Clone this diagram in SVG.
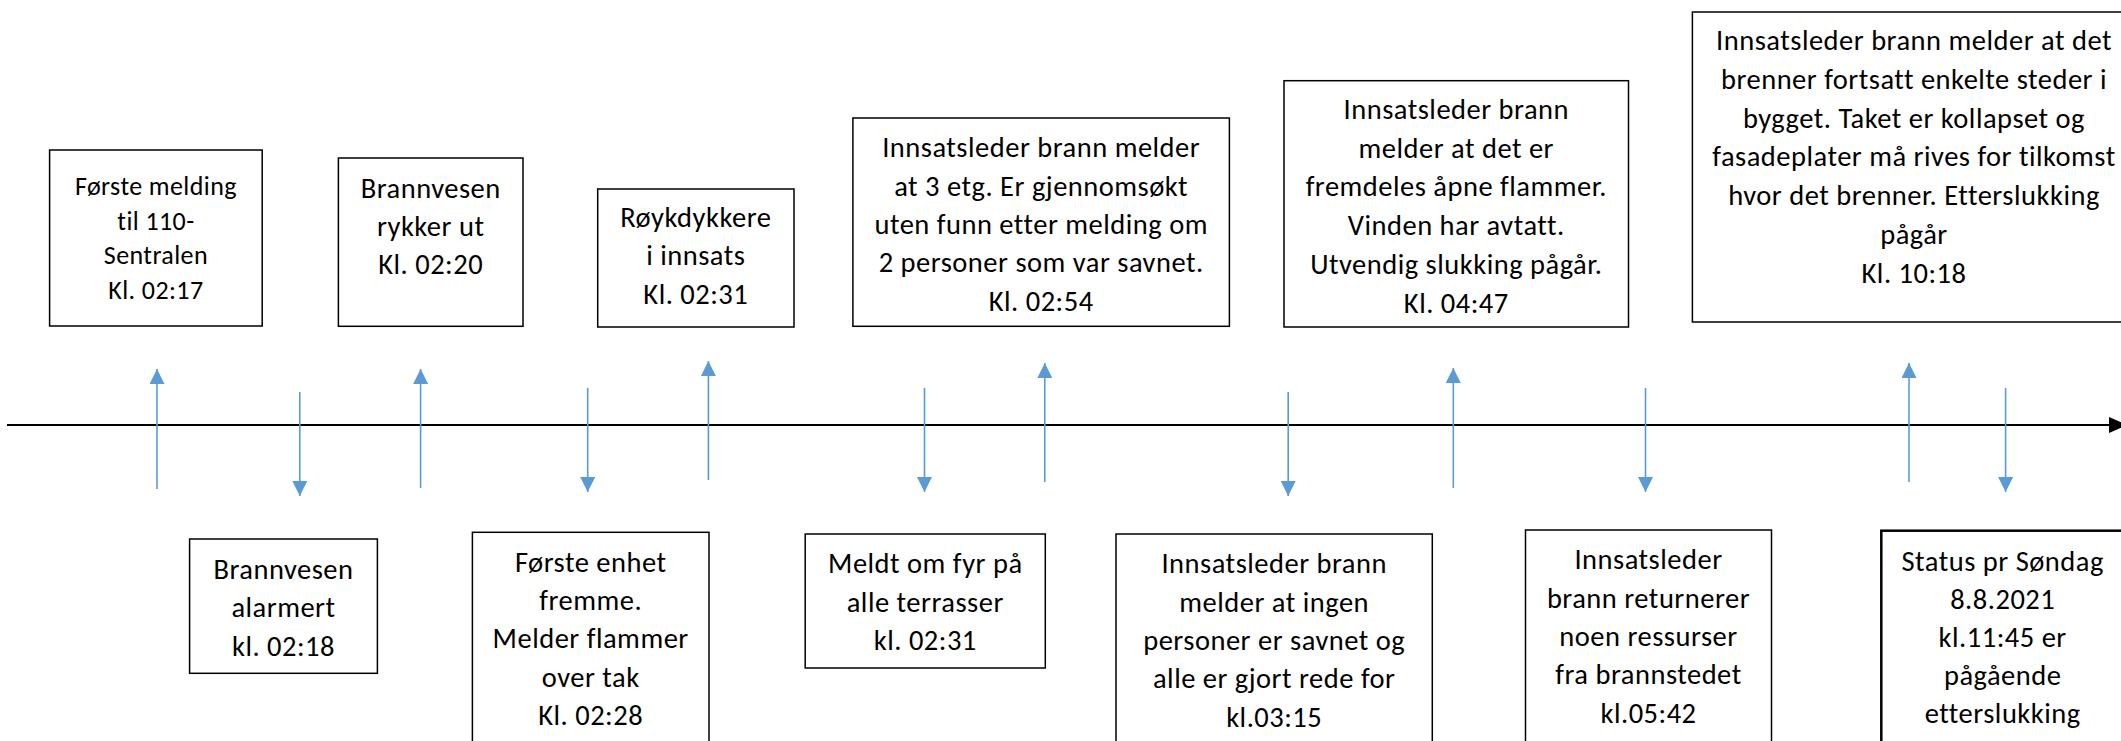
<svg xmlns="http://www.w3.org/2000/svg" width="2121" height="741" viewBox="0 0 2121 741">
<style>
.box{fill:#fff;stroke:#000;stroke-width:1.5}
.thick{stroke-width:2.5}
.t{font-family:Carlito,Lato,"Liberation Sans",sans-serif;font-size:28.5px;letter-spacing:0.5px;fill:#000;text-anchor:middle}
.s{font-size:26px;letter-spacing:0.4px}
.ev{stroke:#5B9BD5;stroke-width:1.6;fill:none}
.axis{stroke:#000;stroke-width:2;fill:none}
</style>
<defs>
<marker id="blue" viewBox="0 0 15 15" markerWidth="15" markerHeight="15" markerUnits="userSpaceOnUse" refX="15" refY="7.5" orient="auto">
<path d="M0,0 L15,7.5 L0,15 z" fill="#5B9BD5"/>
</marker>
<marker id="black" viewBox="0 0 18 16" markerWidth="18" markerHeight="16" markerUnits="userSpaceOnUse" refX="18" refY="8" orient="auto">
<path d="M0,0 L18,8 L0,16 z" fill="#000"/>
</marker>
</defs>
<rect width="2121" height="741" fill="#fff"/>
<g id="connectors">
<line class="axis" x1="7" y1="425" x2="2127" y2="425" marker-end="url(#black)"/>
<line class="ev" x1="157" y1="489" x2="157" y2="369" marker-end="url(#blue)"/>
<line class="ev" x1="420.6" y1="488" x2="420.6" y2="369" marker-end="url(#blue)"/>
<line class="ev" x1="708.4" y1="480" x2="708.4" y2="361" marker-end="url(#blue)"/>
<line class="ev" x1="1044.8" y1="482" x2="1044.8" y2="363" marker-end="url(#blue)"/>
<line class="ev" x1="1453.3" y1="488" x2="1453.3" y2="368" marker-end="url(#blue)"/>
<line class="ev" x1="1909" y1="482" x2="1909" y2="363" marker-end="url(#blue)"/>
<line class="ev" x1="299.8" y1="392" x2="299.8" y2="496" marker-end="url(#blue)"/>
<line class="ev" x1="587.7" y1="388" x2="587.7" y2="492" marker-end="url(#blue)"/>
<line class="ev" x1="924.5" y1="388" x2="924.5" y2="492" marker-end="url(#blue)"/>
<line class="ev" x1="1288.2" y1="392" x2="1288.2" y2="496" marker-end="url(#blue)"/>
<line class="ev" x1="1645.5" y1="388" x2="1645.5" y2="492" marker-end="url(#blue)"/>
<line class="ev" x1="2005.6" y1="388" x2="2005.6" y2="492" marker-end="url(#blue)"/>
</g>
<g id="n1">
<rect class="box" x="49.6" y="150" width="212.6" height="176"/>
<text class="t s"><tspan x="155.9" y="195">Første melding</tspan><tspan x="155.9" y="229.5">til 110-</tspan><tspan x="155.9" y="264">Sentralen</tspan><tspan x="155.9" y="298.5">Kl. 02:17</tspan></text>
</g>
<g id="n2">
<rect class="box" x="338.4" y="158" width="184.6" height="168.3"/>
<text class="t"><tspan x="430.7" y="197.7">Brannvesen</tspan><tspan x="430.7" y="236">rykker ut</tspan><tspan x="430.7" y="274.3">Kl. 02:20</tspan></text>
</g>
<g id="n3">
<rect class="box" x="597.7" y="189" width="196.3" height="138"/>
<text class="t"><tspan x="695.8" y="226.7">Røykdykkere</tspan><tspan x="695.8" y="265.3">i innsats</tspan><tspan x="695.8" y="304">Kl. 02:31</tspan></text>
</g>
<g id="n4">
<rect class="box" x="852.9" y="118" width="376.5" height="208.3"/>
<text class="t"><tspan x="1041.2" y="157.3">Innsatsleder brann melder</tspan><tspan x="1041.2" y="195.7">at 3 etg. Er gjennomsøkt</tspan><tspan x="1041.2" y="234">uten funn etter melding om</tspan><tspan x="1041.2" y="272.3">2 personer som var savnet.</tspan><tspan x="1041.2" y="310.7">Kl. 02:54</tspan></text>
</g>
<g id="n5">
<rect class="box" x="1284" y="80.7" width="344.5" height="246.3"/>
<text class="t"><tspan x="1456.3" y="119">Innsatsleder brann</tspan><tspan x="1456.3" y="157.7">melder at det er</tspan><tspan x="1456.3" y="196.4">fremdeles åpne flammer.</tspan><tspan x="1456.3" y="235.1">Vinden har avtatt.</tspan><tspan x="1456.3" y="273.8">Utvendig slukking pågår.</tspan><tspan x="1456.3" y="312.5">Kl. 04:47</tspan></text>
</g>
<g id="n6">
<rect class="box" x="1692.4" y="12" width="443" height="310"/>
<text class="t"><tspan x="1914" y="50">Innsatsleder brann melder at det</tspan><tspan x="1914" y="88.8">brenner fortsatt enkelte steder i</tspan><tspan x="1914" y="127.6">bygget. Taket er kollapset og</tspan><tspan x="1914" y="166.4">fasadeplater må rives for tilkomst</tspan><tspan x="1914" y="205.2">hvor det brenner. Etterslukking</tspan><tspan x="1914" y="244">pågår</tspan><tspan x="1914" y="282.8">Kl. 10:18</tspan></text>
</g>
<g id="n7">
<rect class="box" x="189.6" y="539" width="187.8" height="134.3"/>
<text class="t"><tspan x="283.5" y="579">Brannvesen</tspan><tspan x="283.5" y="617.3">alarmert</tspan><tspan x="283.5" y="655.6">kl. 02:18</tspan></text>
</g>
<g id="n8">
<rect class="box" x="472.4" y="532.3" width="236.6" height="230"/>
<text class="t"><tspan x="590.7" y="571.7">Første enhet</tspan><tspan x="590.7" y="610">fremme.</tspan><tspan x="590.7" y="648.3">Melder flammer</tspan><tspan x="590.7" y="686.6">over tak</tspan><tspan x="590.7" y="724.9">Kl. 02:28</tspan></text>
</g>
<g id="n9">
<rect class="box" x="805.2" y="534" width="240.1" height="134"/>
<text class="t"><tspan x="925.3" y="573.3">Meldt om fyr på</tspan><tspan x="925.3" y="611.7">alle terrasser</tspan><tspan x="925.3" y="650">kl. 02:31</tspan></text>
</g>
<g id="n10">
<rect class="box" x="1116" y="534" width="316.3" height="230"/>
<text class="t"><tspan x="1274.2" y="573.3">Innsatsleder brann</tspan><tspan x="1274.2" y="611.6">melder at ingen</tspan><tspan x="1274.2" y="649.9">personer er savnet og</tspan><tspan x="1274.2" y="688.2">alle er gjort rede for</tspan><tspan x="1274.2" y="726.5">kl.03:15</tspan></text>
</g>
<g id="n11">
<rect class="box" x="1525.5" y="530" width="246" height="230"/>
<text class="t"><tspan x="1648.5" y="569.3">Innsatsleder</tspan><tspan x="1648.5" y="607.6">brann returnerer</tspan><tspan x="1648.5" y="645.9">noen ressurser</tspan><tspan x="1648.5" y="684.2">fra brannstedet</tspan><tspan x="1648.5" y="722.5">kl.05:42</tspan></text>
</g>
<g id="n12">
<rect class="box thick" x="1881.3" y="530.7" width="243" height="230"/>
<text class="t"><tspan x="2002.7" y="570.7">Status pr Søndag</tspan><tspan x="2002.7" y="608.7">8.8.2021</tspan><tspan x="2002.7" y="646.7">kl.11:45 er</tspan><tspan x="2002.7" y="684.7">pågående</tspan><tspan x="2002.7" y="722.7">etterslukking</tspan></text>
</g>
</svg>
